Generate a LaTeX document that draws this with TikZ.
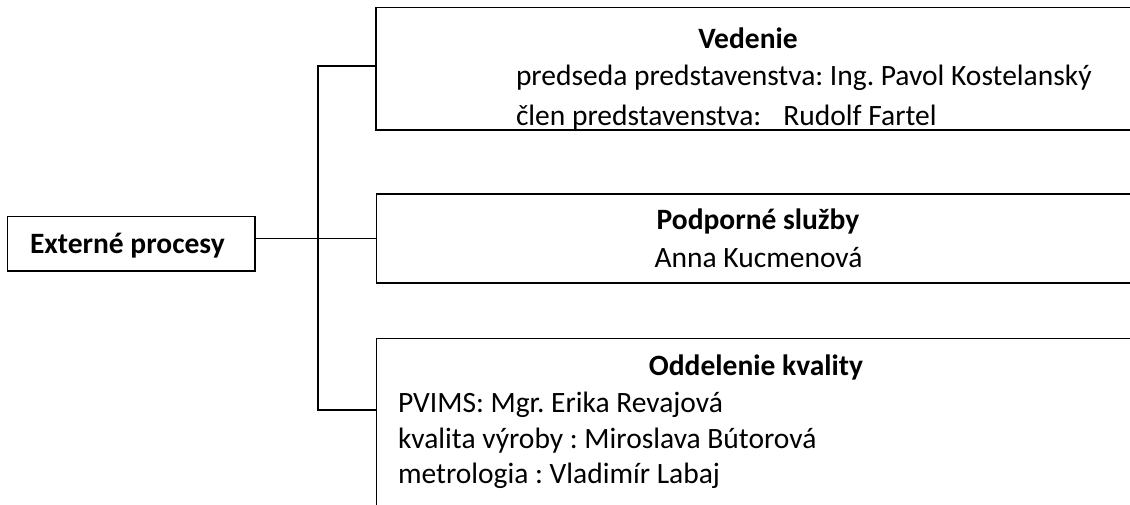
\documentclass[tikz,border=0pt]{standalone}
\usepackage{fontspec}
\setmainfont{Carlito}
\frenchspacing
\begin{document}
\begin{tikzpicture}[x=1pt,y=-1pt,
  box/.style={draw, line width=1.8pt, inner sep=0pt, outer sep=0pt, anchor=north west},
  conn/.style={draw, line width=1.8pt},
  txt/.style={inner sep=0pt, outer sep=0pt, font=\fontsize{29.5}{35}\selectfont},
  ttl/.style={txt, font=\bfseries\fontsize{29.5}{35}\selectfont}]
\useasboundingbox (0,0) rectangle (1130,504);
\clip (0,0) rectangle (1130,504);
\fill[white] (0,0) rectangle (1130,504);
% boxes
\node[box, minimum width=247.5pt, minimum height=54.5pt] (ext) at (7.5,216.5) {};
\node[box, minimum width=800pt, minimum height=122.5pt] (ved) at (376,7.5) {};
\node[box, minimum width=800pt, minimum height=89pt] (pod) at (376.5,194) {};
\node[box, minimum width=800pt, minimum height=200pt] (odd) at (376.5,338.5) {};
% connectors
\coordinate (tv) at (318,66);
\coordinate (to) at (318,410);
\draw[conn] (ext.east |- pod.west) -- (pod.west);
\draw[conn] (tv -| ved.west) -- (tv) -- (to) -- (to -| odd.west);
% texts
\node[ttl, anchor=base west] (extt) at (30,253) {Externé procesy};
\node[ttl, anchor=base] (vedt) at (748,48) {Vedenie};
\begin{scope}
\clip (376,7.5) rectangle (1130,130);
\node[txt, anchor=base west] (ved1) at (516,85) {predseda predstavenstva: Ing. Pavol Kostelanský};
\node[txt, anchor=base west] (ved2) at (516,125) {člen predstavenstva:\hspace{0.75em}Rudolf Fartel};
\end{scope}
\node[ttl, anchor=base] (podt) at (758,229) {Podporné služby};
\node[txt, anchor=base] (pod1) at (758.5,267) {Anna Kucmenová};
\node[ttl, anchor=base] (oddt) at (756,375) {Oddelenie kvality};
\node[txt, anchor=base west] (odd1) at (398,412) {PVIMS: Mgr. Erika Revajová};
\node[txt, anchor=base west] (odd2) at (398,448) {kvalita výroby : Miroslava Bútorová};
\node[txt, anchor=base west] (odd3) at (398,483) {metrologia : Vladimír Labaj};
\end{tikzpicture}
\end{document}
